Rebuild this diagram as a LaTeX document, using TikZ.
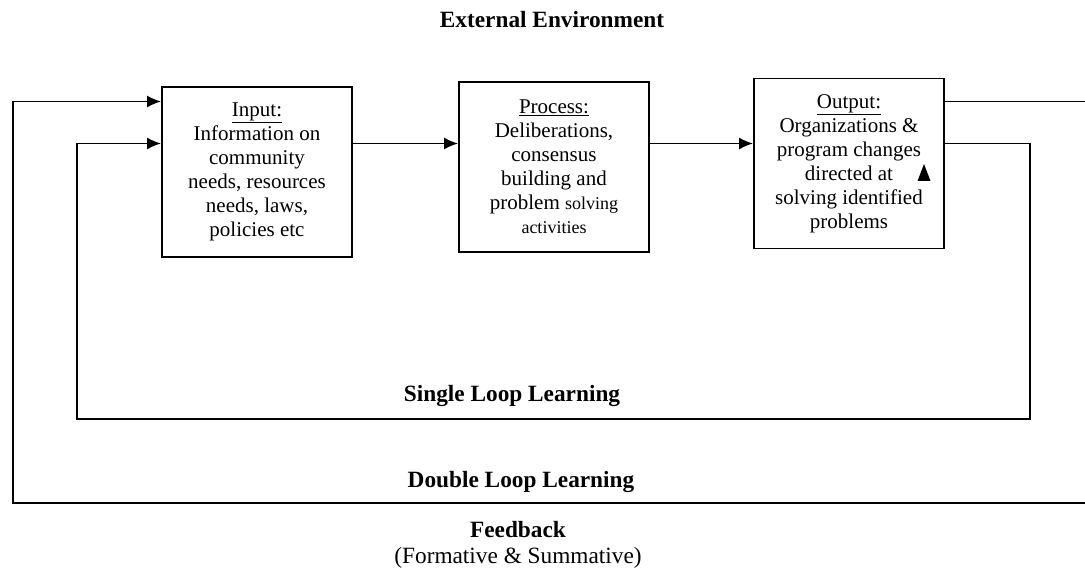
\documentclass[tikz,border=0pt]{standalone}
\usepackage{fontspec}
\setmainfont{Liberation Serif}
\usetikzlibrary{arrows.meta}
\tikzset{stage/.style={
  rectangle,
  draw,line width=1.8pt,
  minimum width=190pt,minimum height=170pt,
  inner sep=2pt,align=center,
  font=\fontsize{21}{24}\selectfont}}
\tikzset{caption/.style={
  inner sep=0pt,anchor=base,
  font=\fontsize{23.3}{26}\selectfont\bfseries}}
\tikzset{>={Latex[length=14pt,width=12pt]}}
\newcommand{\smalltext}[1]{{\fontsize{18}{24}\selectfont #1}}

\begin{document}
\begin{tikzpicture}[x=1pt,y=-1pt,line width=1.8pt]
  \useasboundingbox (0,0) rectangle (1085,569);
  \node[stage] (input) at (257,172)
    {\underline{Input:}\\Information on\\community\\needs, resources\\needs, laws,\\policies etc};
  \node[stage] (process) at (554,167)
    {\underline{Process:}\\Deliberations,\\consensus\\building and\\problem \smalltext{solving}\\\smalltext{activities}};
  \node[stage] (output) at (849,163.5)
    {\underline{Output:}\\Organizations \&\\program changes\\directed at\\solving identified\\problems};
  % rows of the connectors and corners of the two loops
  \coordinate (row1) at (0,101.5);
  \coordinate (row2) at (0,143.5);
  \coordinate (outer) at (13,503);
  \coordinate (outerR) at (1095,503);
  \coordinate (inner) at (77,419);
  \coordinate (innerR) at (1030,419);
  \foreach \m/\n in {input/process,process/output}
    \draw[->] (\m.east |- row2) -- (\n.west |- row2);
  \draw[->] (output.east |- row1) -| (outerR) -- (outer) |- (input.west |- row1);
  \draw[->] (output.east |- row2) -| (innerR) -- (inner) |- (input.west |- row2);
  \fill (917.5,181) -- (924,164) -- (930.5,181) -- cycle;
  \node[caption] (env) at (552,27.5) {External Environment};
  \node[caption] (single) at (512,401.5) {Single Loop Learning};
  \node[caption] (double) at (521,487.5) {Double Loop Learning};
  \node[caption] (feedback) at (518,537) {Feedback};
  \node[caption,font=\fontsize{23.3}{26}\selectfont] (kinds) at (518,563) {(Formative \& Summative)};
\end{tikzpicture}
\end{document}
